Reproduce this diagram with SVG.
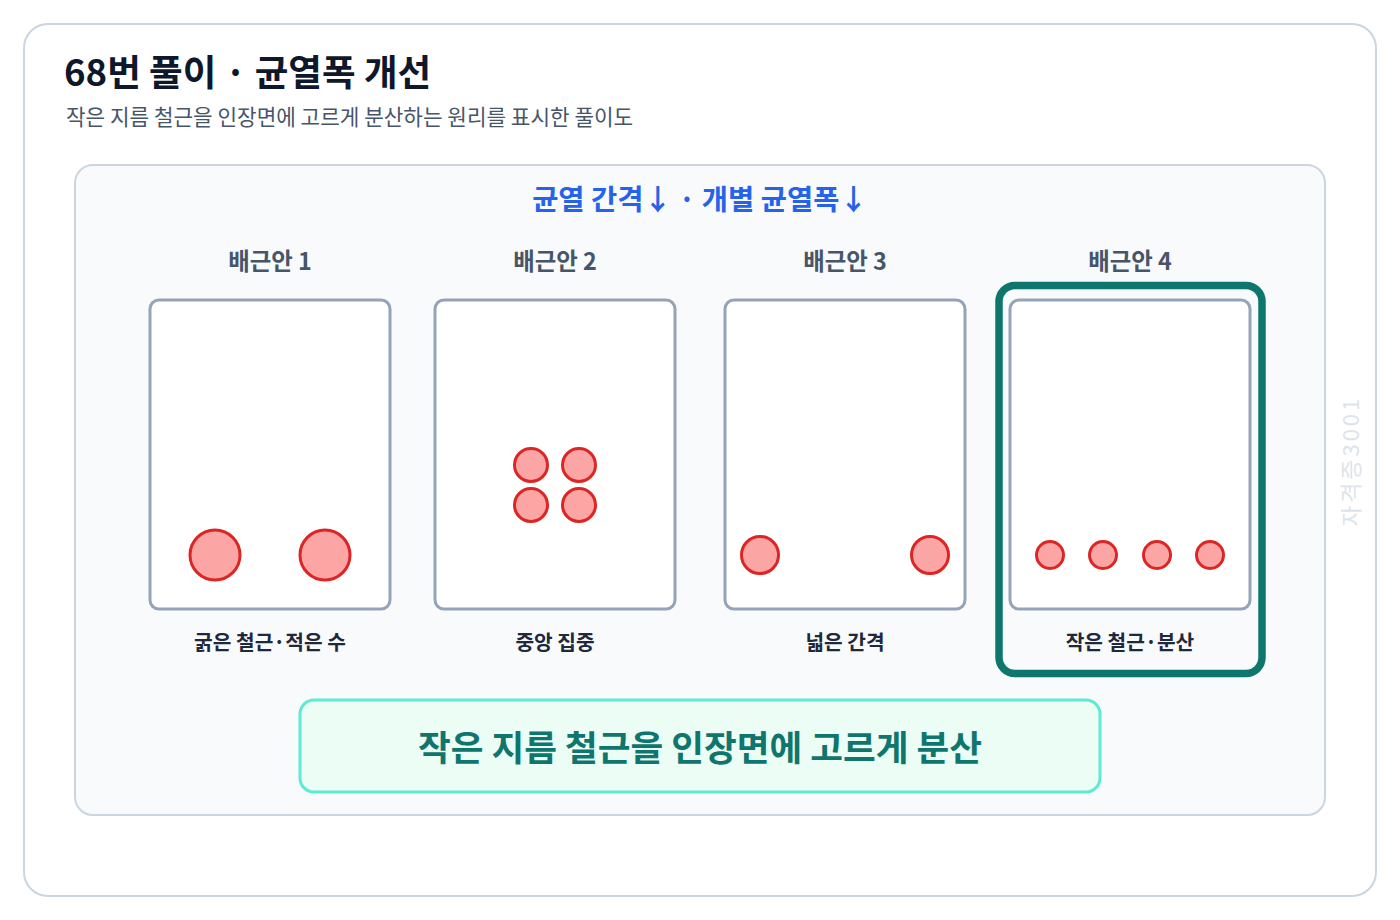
<svg xmlns="http://www.w3.org/2000/svg" width="1400" height="920" viewBox="0 0 1400 920">
<style>
text{font-family:"Noto Sans CJK KR","Noto Sans",sans-serif}
.beam{fill:#ffffff;stroke:#94a3b8;stroke-width:3}
.bar{fill:#fca5a5;stroke:#dc2626;stroke-width:3}
.plabel{font-size:23.4px;font-weight:700;fill:#475569;text-anchor:middle}
.blabel{font-size:20.3px;font-weight:700;fill:#1e293b;text-anchor:middle}
</style>
<rect x="0" y="0" width="1400" height="920" fill="#ffffff"/>
<rect x="24" y="24" width="1352" height="872" rx="24" fill="#ffffff" stroke="#cbd5e1" stroke-width="2"/>
<text x="64" y="86" font-size="36.6" font-weight="700" fill="#0f172a">68번 풀이 · 균열폭 개선</text>
<text x="66" y="125" font-size="21.3" fill="#475569">작은 지름 철근을 인장면에 고르게 분산하는 원리를 표시한 풀이도</text>
<rect x="75" y="165" width="1250" height="650" rx="18" fill="#f8fafc" stroke="#cbd5e1" stroke-width="2"/>
<text x="700" y="210" font-size="28.5" font-weight="700" fill="#2563eb" text-anchor="middle">균열 간격↓ · 개별 균열폭↓</text>
<g id="option1">
<text class="plabel" x="270" y="270">배근안 1</text>
<rect class="beam" x="150" y="300" width="240" height="309" rx="9"/>
<circle class="bar" cx="215" cy="555" r="25"/>
<circle class="bar" cx="325" cy="555" r="25"/>
<text class="blabel" x="270" y="650">굵은 철근·적은 수</text>
</g>
<g id="option2">
<text class="plabel" x="555" y="270">배근안 2</text>
<rect class="beam" x="435" y="300" width="240" height="309" rx="9"/>
<circle class="bar" cx="531" cy="465" r="16.5"/>
<circle class="bar" cx="579" cy="465" r="16.5"/>
<circle class="bar" cx="531" cy="505" r="16.5"/>
<circle class="bar" cx="579" cy="505" r="16.5"/>
<text class="blabel" x="555" y="650">중앙 집중</text>
</g>
<g id="option3">
<text class="plabel" x="845" y="270">배근안 3</text>
<rect class="beam" x="725" y="300" width="240" height="309" rx="9"/>
<circle class="bar" cx="760" cy="555" r="18.5"/>
<circle class="bar" cx="930" cy="555" r="18.5"/>
<text class="blabel" x="845" y="650">넓은 간격</text>
</g>
<g id="option4">
<text class="plabel" x="1130" y="270">배근안 4</text>
<rect x="999" y="285.5" width="263" height="388" rx="16" fill="none" stroke="#0f766e" stroke-width="7.5"/>
<rect class="beam" x="1010" y="300" width="240" height="309" rx="9"/>
<circle class="bar" cx="1050" cy="555" r="13.5"/>
<circle class="bar" cx="1103" cy="555" r="13.5"/>
<circle class="bar" cx="1157" cy="555" r="13.5"/>
<circle class="bar" cx="1210" cy="555" r="13.5"/>
<text class="blabel" x="1130" y="650">작은 철근·분산</text>
</g>
<g id="conclusion">
<rect x="300" y="700" width="800" height="92" rx="14" fill="#ecfdf5" stroke="#5eead4" stroke-width="3"/>
<text x="700" y="761" font-size="35.6" font-weight="700" fill="#0f766e" text-anchor="middle">작은 지름 철근을 인장면에 고르게 분산</text>
</g>
<g id="connectors"></g>
<text x="1359" y="461" font-size="22" fill="#dde3ea" text-anchor="middle" transform="rotate(-90 1359 461)" letter-spacing="3">자격증3001</text>
</svg>
